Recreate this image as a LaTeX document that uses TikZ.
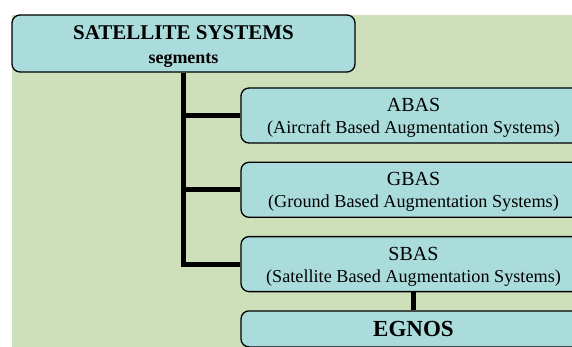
\documentclass[tikz,border=0pt]{standalone}
\usepackage{fontspec}
\setmainfont{Liberation Serif}
\usetikzlibrary{positioning}
\definecolor{bggreen}{RGB}{205,224,185}
\definecolor{segcyan}{RGB}{170,220,220}
\newcommand{\toppad}[1]{\rule{0pt}{#1}}

\begin{document}
\begin{tikzpicture}[x=1pt, y=-1pt,
    segbox/.style={draw, line width=1.3pt, rounded corners=8pt, fill=segcyan,
      align=center, inner sep=0pt, minimum width=345pt, minimum height=55pt,
      font=\fontsize{18.2}{22}\selectfont},
    link/.style={line width=5pt}]
  \useasboundingbox (0,0) rectangle (572,347);
  \fill[bggreen] (12,15) rectangle (572,347);
  \node[segbox, minimum width=343pt, minimum height=57pt,
    font=\bfseries\fontsize{18}{23.5}\selectfont] (sat) at (183.5,43.5)
    {\toppad{20pt}{\fontsize{21}{23}\selectfont SATELLITE SYSTEMS}\\ segments};
  \node[segbox] (abas) at (413.5,115.5)
    {\toppad{18pt}{\fontsize{20}{22}\selectfont ABAS}\\ (Aircraft Based Augmentation Systems)};
  \node[segbox, below=18pt of abas] (gbas)
    {\toppad{18pt}{\fontsize{20}{22}\selectfont GBAS}\\ (Ground Based Augmentation Systems)};
  \node[segbox, below=18pt of gbas] (sbas)
    {\toppad{18pt}{\fontsize{20}{22}\selectfont SBAS}\\ (Satellite Based Augmentation Systems)};
  \node[segbox, minimum height=36pt, below=18pt of sbas,
    font=\bfseries\fontsize{23}{25}\selectfont] (egnos) {EGNOS};
  % tree links
  \draw[link] (sat.south) |- (sbas.west);
  \draw[link] (sat.south |- abas.west) -- (abas.west);
  \draw[link] (sat.south |- gbas.west) -- (gbas.west);
  \draw[link] (sbas) -- (egnos);
\end{tikzpicture}
\end{document}
